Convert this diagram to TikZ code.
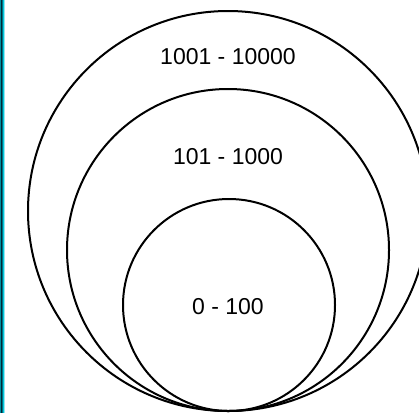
\documentclass[tikz,border=0pt]{standalone}
\usepackage{fontspec}
\setmainfont{Liberation Sans}
\definecolor{edgeA}{RGB}{0,140,160}
\definecolor{edgeB}{RGB}{0,40,50}
\definecolor{edgeC}{RGB}{0,110,130}
\definecolor{edgeD}{RGB}{0,200,220}
\definecolor{edgeE}{RGB}{150,230,240}
\tikzset{
  ring/.style={circle, draw=black, line width=2pt, inner sep=0pt},
  lbl/.style={font=\fontsize{23}{27}\selectfont, inner sep=0pt}
}
\begin{document}
\begin{tikzpicture}[x=1pt,y=-1pt]
\useasboundingbox (0,0) rectangle (419,413);
\clip (0,0) rectangle (419,413);
\fill[edgeA] (0,0) rectangle (1,413);
\fill[edgeB] (1,0) rectangle (2,413);
\fill[edgeC] (2,0) rectangle (3,413);
\fill[edgeD] (3,0) rectangle (4,413);
\fill[edgeE] (4,0) rectangle (5,413);
\node[ring, minimum size=400pt] (big) at (228,211) {};
\node[ring, minimum size=322pt] (mid) at (228,250) {};
\node[ring, minimum size=212pt] (small) at (229,305) {};
\node[lbl] (t1) at (228,57) {1001 - 10000};
\node[lbl] (t2) at (228,157) {101 - 1000};
\node[lbl] (t3) at (228,307) {0 - 100};
\end{tikzpicture}
\end{document}
